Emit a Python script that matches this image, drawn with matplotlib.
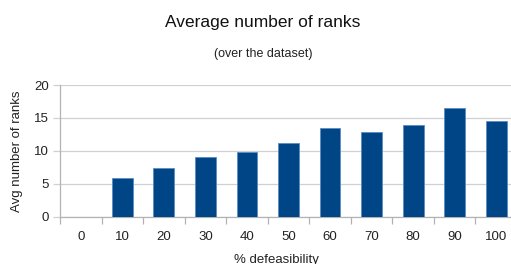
import numpy as np
from matplotlib import pyplot as plt

# data
categories = ['0', '10', '20', '30', '40', '50', '60', '70', '80', '90', '100']
avg_ranks = [0, 5.85, 7.45, 9.05, 9.85, 11.15, 13.4, 12.85, 13.9, 16.5, 14.5]

plt.rcParams['font.family'] = ['Liberation Sans', 'DejaVu Sans']

fig = plt.figure(figsize=(5.11, 2.64), dpi=100)
# plot area runs past the right edge, as in the original
ax = fig.add_axes([60/511, (264-216.7)/264, 457/511, 131.7/264])

x = np.arange(len(categories))
ax.bar(x, avg_ranks, width=0.5, color='#004586', edgecolor='#5b8cc4', linewidth=0.6, zorder=3)

ax.set_xlim(-0.5, len(categories) - 0.5)
ax.set_ylim(0, 20)
ax.set_yticks([0, 5, 10, 15, 20])
ax.grid(axis='y', color='#d0d0d0', linewidth=0.9, zorder=0)

# tick marks between categories, labels centred on categories
ax.set_xticks(np.arange(len(categories) + 1) - 0.5)
ax.set_xticklabels([])
ax.set_xticks(x, minor=True)
ax.set_xticklabels(categories, minor=True)
ax.tick_params(axis='x', which='major', length=5, color='#b3b3b3', width=0.9)
ax.tick_params(axis='x', which='minor', length=0, pad=10, labelsize=9.5, labelcolor='#222222')
ax.tick_params(axis='y', length=5, color='#d0d0d0', width=0.9, pad=3, labelsize=9.5, labelcolor='#222222')

for s in ['top', 'right']:
    ax.spines[s].set_visible(False)
ax.spines['left'].set_color('#b3b3b3')
ax.spines['bottom'].set_color('#b3b3b3')
ax.spines['left'].set_linewidth(0.9)
ax.spines['bottom'].set_linewidth(0.9)

ax.set_ylabel('Avg number of ranks', fontsize=9.5, color='#222222', labelpad=8)
fig.text(276/511, 1 - 263.5/264, '% defeasibility', ha='center', va='baseline', fontsize=9.5, color='#222222')

fig.text(263/511, 1 - 22/264, 'Average number of ranks', ha='center', va='center', fontsize=12.5, color='#111111')
fig.text(263/511, 1 - 54/264, '(over the dataset)', ha='center', va='center', fontsize=9, color='#222222')

fig.savefig('out.png', dpi=100)
